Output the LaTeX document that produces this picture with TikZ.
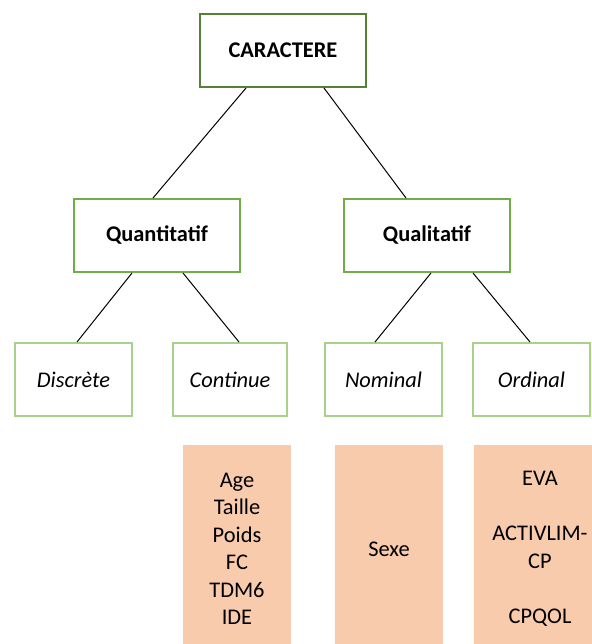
\documentclass[tikz,border=0pt]{standalone}
\usepackage{fontspec}
\setmainfont{Carlito}
\usepackage{tikz}
\usetikzlibrary{positioning,calc}
\usepackage{xcolor}
\definecolor{rootgreen}{RGB}{83,129,53}
\definecolor{catgreen}{RGB}{112,173,71}
\definecolor{typegreen}{RGB}{169,209,142}
\definecolor{listfill}{RGB}{248,203,173}

\begin{document}
\begin{tikzpicture}[
    x=0.5pt, y=-0.5pt,
    rootbox/.style={rectangle, draw=rootgreen, line width=1pt, minimum width=83pt, minimum height=36.5pt, inner sep=0pt, font=\bfseries},
    catbox/.style={rectangle, draw=catgreen, line width=1pt, minimum width=83pt, minimum height=36.5pt, inner sep=0pt, font=\bfseries},
    typebox/.style={rectangle, draw=typegreen, line width=1pt, minimum width=58.5pt, minimum height=36.5pt, inner sep=0pt, font=\itshape},
    listbox/.style={rectangle, fill=listfill, minimum width=54pt, minimum height=104pt, inner sep=0pt, align=center},
    link/.style={draw=black, line width=0.5pt}
]
    \fontsize{11.2}{13.75}\selectfont
    \clip (0,0) rectangle (592,644);

    % Root
    \node[rootbox] (carac) at (283,50.5) {CARACTERE};

    % Two kinds of variable
    \node[catbox] (quant) at (157,235.5) {Quantitatif};
    \node[catbox] (qual) at (427,235.5) {Qualitatif};

    % Sub types
    \node[typebox] (disc) at (73.5,379.5) {Discrète};
    \node[typebox, minimum width=57pt] (cont) at (230,379.5) {Continue};
    \node[typebox] (nom) at (383.5,379.5) {Nominal};
    \node[typebox] (ord) at (531.5,379.5) {Ordinal};

    % Variables of the study
    \node[listbox] (contlist) at (237,549) {Age\\Taille\\Poids\\FC\\TDM6\\IDE};
    \node[listbox] (nomlist) at (389,549) {Sexe};
    \node[listbox, minimum width=66pt] (ordlist) at (540,549) {EVA\\~\\ACTIVLIM-\\CP\\~\\CPQOL};

    % Links
    \draw[link] ([xshift=-18.5pt]carac.south) -- ([xshift=-2pt]quant.north);
    \draw[link] ([xshift=20.5pt]carac.south) -- ([xshift=-10.5pt]qual.north);
    \draw[link] ([xshift=-12.5pt]quant.south) -- ([xshift=1.75pt]disc.north);
    \draw[link] ([xshift=13pt]quant.south) -- ([xshift=4.5pt]cont.north);
    \draw[link] ([xshift=2pt]qual.south) -- ([xshift=-4.25pt]nom.north);
    \draw[link] ([xshift=23pt]qual.south) -- ([xshift=-0.75pt]ord.north);
\end{tikzpicture}
\end{document}
